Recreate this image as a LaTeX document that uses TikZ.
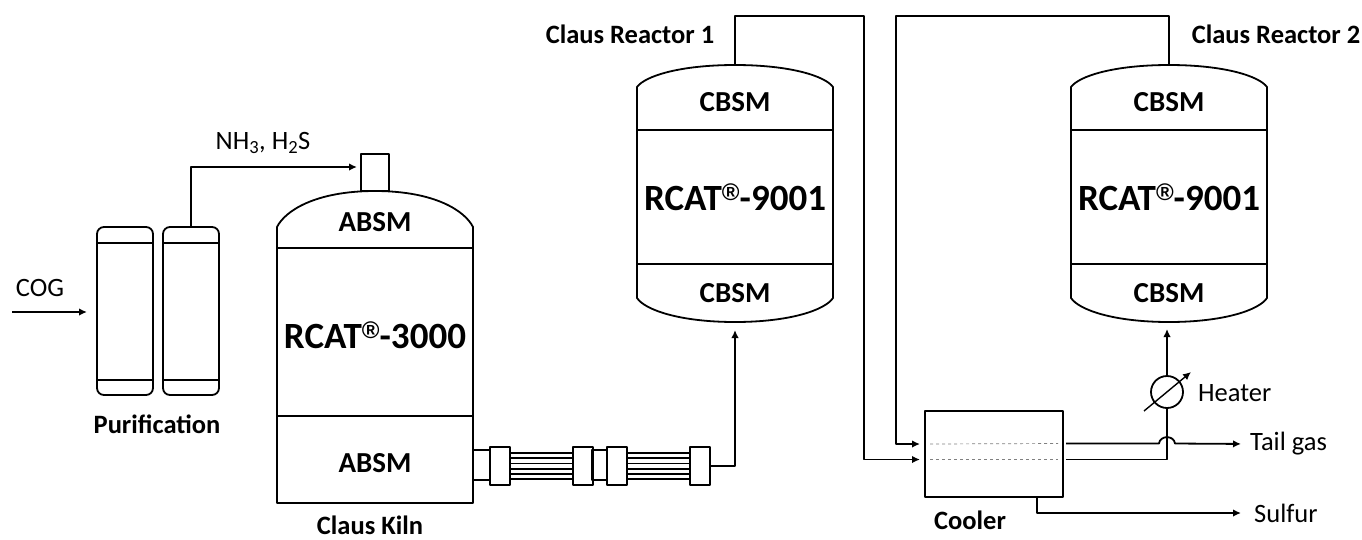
\documentclass[tikz,border=0pt]{standalone}
\usepackage{fontspec}
\setmainfont{Carlito}
\newfontfamily\regfont{Liberation Sans}
\usetikzlibrary{arrows.meta}
\newcommand{\regmark}{\raisebox{10pt}{\fontsize{24}{24}\selectfont\regfont\bfseries ®}}
\tikzstyle{pipe}=[line width=1.8]
\tikzstyle{flow}=[-{Latex[length=8,width=7.5]},line width=1.8]
\tikzstyle{wall}=[draw,line width=1.8,inner sep=0,outer sep=0]
\tikzstyle{label plain}=[font=\fontsize{26.5}{28}\selectfont,inner sep=0]
\tikzstyle{label bold}=[font=\fontsize{26.5}{28}\selectfont\bfseries,inner sep=0]
\tikzstyle{label bed}=[font=\fontsize{29}{31}\selectfont\bfseries,inner sep=0]
\tikzstyle{label big}=[font=\fontsize{37}{40}\selectfont\bfseries,inner sep=0]
\tikzstyle{column}=[wall,rounded corners=7,minimum width=56,minimum height=168]
\tikzstyle{bed}=[wall,minimum width=196]
\tikzstyle{flange}=[wall,minimum width=20,minimum height=38]
\tikzstyle{collar}=[wall,minimum height=30]

\begin{document}
\begin{tikzpicture}[x=1pt,y=-1pt,line join=round]
\useasboundingbox (0,0) rectangle (1362,539);

% Purification
\node [column] (P1) at (125,311) {};
\node [column] (P2) at (191,311) {};
\foreach \col in {P1,P2} {
    \draw [pipe] ([yshift=-16]\col.north west) -- ([yshift=-16]\col.north east);
    \draw [pipe] ([yshift=15]\col.south west) -- ([yshift=15]\col.south east);
}
\coordinate (cog) at (12,312);
\node [label plain] (coglabel) at (40,288) {COG};
\node [label plain] (nhlabel) at (263,143) {NH\textsubscript{3}, H\textsubscript{2}S};
\node [label bold] (purlabel) at (157,424) {Purification};
\draw [flow,shorten >=10] (cog) -- (P1.west |- cog);

% Claus kiln
\node [bed,minimum height=168] (K) at (375,332) {};
\node [label big] (Kbed) at (375,335) {RCAT\regmark-3000};
\node [wall,minimum width=28,minimum height=37] (stub) at (375,172.5) {};
\coordinate (Ktop) at (375,191);
\coordinate (Kbot) at (375,503);
\draw [pipe] (K.north west) -- ++(0,-21) .. controls ++(8,-16) and ++(-60,0) .. (Ktop)
    .. controls ++(60,0) and ++(-8,-16) .. ([yshift=21]K.north east) -- (K.north east);
\draw [pipe] (K.south west) |- (Kbot) -| (K.south east);
\node [label bed] (Kup) at (375,222) {ABSM};
\node [label bed] (Kdown) at (375,463) {ABSM};
\node [label bold] (Klabel) at (370,525.5) {Claus Kiln};
\draw [flow,shorten >=4] (P2.north) |- ([yshift=5.5]stub.west);

% Tube bundles
\node [collar,minimum width=17] (C1) at (481.5,465) {};
\node [flange] (F1) at (500,466) {};
\node [flange] (F2) at (583,466) {};
\node [collar,minimum width=15] (C2) at (599.5,465) {};
\node [flange] (F3) at (617,466) {};
\node [flange] (F4) at (700,466) {};
\foreach \dy in {-13,-7.8,-2.6,2.6,7.8,13} {
    \draw [pipe] ([yshift=\dy]F1.east) -- ([yshift=\dy]F2.west);
    \draw [pipe] ([yshift=\dy]F3.east) -- ([yshift=\dy]F4.west);
}

% Reactors
\foreach \reac/\cx in {A/735,B/1169} {
    \node [bed,minimum height=134] (\reac) at (\cx,197) {};
    \node [label big] (bed\reac) at (\cx,197) {RCAT\regmark-9001};
    \coordinate (top\reac) at (\cx,65);
    \coordinate (bot\reac) at (\cx,322);
    \draw [pipe] (\reac.north west) -- ++(0,-43) .. controls ++(8,-11) and ++(-55,0) .. (top\reac)
        .. controls ++(55,0) and ++(-8,-11) .. ([yshift=43]\reac.north east) -- (\reac.north east);
    \draw [pipe] (\reac.south west) -- ++(0,34) .. controls ++(8,12) and ++(-55,0) .. (bot\reac)
        .. controls ++(55,0) and ++(-8,12) .. ([yshift=-34]\reac.south east) -- (\reac.south east);
    \node [label bed] (up\reac) at (\cx,102) {CBSM};
    \node [label bed] (down\reac) at (\cx,293) {CBSM};
}
\node [label bold] (labelA) at (630,34) {Claus Reactor 1};
\node [label bold] (labelB) at (1276,34) {Claus Reactor 2};
\draw [flow,shorten >=8] (F4.east) -| (botA);

% Cooler
\node [wall,minimum width=138,minimum height=86] (cooler) at (994,454) {};
\node [label bold] (coolerlabel) at (970,520) {Cooler};
\coordinate (in1) at (925,444);
\coordinate (in2) at (925,459.5);
\coordinate (out1) at (1063,443.5);
\coordinate (out2) at (1063,459.5);
\coordinate (drain) at (1037,497);
\draw [gray,dashed,line width=0.7] ([xshift=5]in1) -- ([xshift=-5]out1);
\draw [gray,dashed,line width=0.7] ([xshift=5]in2) -- ([xshift=-5]out2);
\coordinate (turn1) at (864,16);
\coordinate (turn2) at (896,16);
\draw [flow,shorten >=5] (topA) |- (turn1) |- (in2);
\draw [flow,shorten >=5] (topB) |- (turn2) |- (in1);

% Heater and products
\node [wall,circle,minimum size=32] (H) at (1167,392) {};
\coordinate (hstart) at (1144,411);
\coordinate (hend) at (1191,372);
\node [label plain,anchor=west] (Hlabel) at (1198,393) {Heater};
\node [label plain,anchor=west] (tail) at (1250,444) {Tail gas};
\node [label plain,anchor=west] (sulfur) at (1254,513) {Sulfur};
\draw [flow,line width=1.4] (hstart) -- (hend);
\draw [pipe,shorten <=3] (out2) -| (H.south);
\draw [flow,shorten >=7] (H.north) -- (botB -| H.north);
\draw [flow,shorten <=3,shorten >=9] (out1) -- (1159,443.5) .. controls (1160,435) and (1174,435) .. (1175,443.5) -- (tail.west);
\draw [flow,shorten >=13] (drain) |- (sulfur.west);

\end{tikzpicture}
\end{document}
